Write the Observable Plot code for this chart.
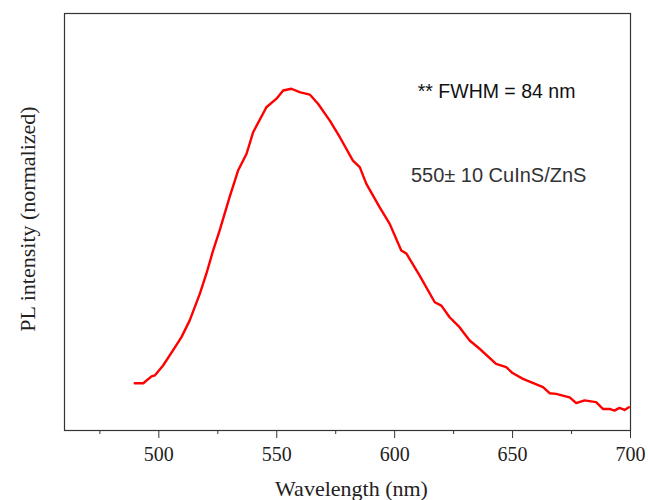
<!DOCTYPE html>
<html>
<head>
<meta charset="utf-8">
<script src="https://cdn.jsdelivr.net/npm/d3@7"></script>
<script src="https://cdn.jsdelivr.net/npm/@observablehq/plot@0.6"></script>
<style>
  html, body { margin: 0; padding: 0; background: #fff; }
  #chart { width: 648px; height: 500px; }
</style>
</head>
<body>
<div id="chart"></div>
<script>
const wavelength = [489.8, 493.4, 496.9, 498.3, 501.8, 506.0, 509.6, 513.1, 517.4, 520.2, 523.0, 525.8, 530.0, 533.6, 537.2, 540.0, 545.6, 549.9, 552.7, 556.2, 559.7, 564.0, 567.5, 572.5, 576.7, 582.3, 585.2, 588.0, 593.6, 597.9, 602.8, 605.0, 610.6, 617.0, 619.8, 623.3, 627.5, 631.8, 636.0, 643.0, 647.3, 650.0, 654.4, 662.9, 665.7, 668.5, 671.3, 674.2, 677.0, 680.5, 685.4, 688.3, 691.1, 693.2, 695.3, 697.5, 699.3];
// Normalised PL intensity (peak = 1)
const intensity = [0.138, 0.138, 0.158, 0.161, 0.190, 0.234, 0.273, 0.322, 0.400, 0.459, 0.526, 0.585, 0.682, 0.760, 0.809, 0.872, 0.945, 0.970, 0.994, 0.999, 0.989, 0.982, 0.955, 0.906, 0.858, 0.789, 0.770, 0.721, 0.653, 0.604, 0.526, 0.517, 0.453, 0.375, 0.365, 0.331, 0.302, 0.263, 0.239, 0.195, 0.185, 0.168, 0.151, 0.127, 0.109, 0.107, 0.102, 0.097, 0.080, 0.088, 0.083, 0.063, 0.063, 0.058, 0.066, 0.060, 0.068];
const majorTicks = [500, 550, 600, 650, 700];
const minorTicks = [475, 525, 575, 625, 675];
const annotations = ["** FWHM = 84 nm", "550\u00b1 10 CuInS/ZnS"];
const xLabel = "Wavelength (nm)";
const yLabel = "PL intensity (normalized)";

const data = wavelength.map((w, i) => ({w, v: intensity[i]}));
const serif = "'Liberation Serif', 'Times New Roman', serif";
const sans = "'Liberation Sans', Arial, sans-serif";

const chart = Plot.plot({
  width: 648,
  height: 500,
  marginLeft: 64,
  marginRight: 18,
  marginTop: 13,
  marginBottom: 70,
  style: {fontFamily: serif, background: "#fff"},
  x: {domain: [460, 700], label: null},
  y: {domain: [0, 1.219], axis: null},
  marks: [
    Plot.frame({stroke: "#333", strokeWidth: 1.2}),
    Plot.axisX({ticks: minorTicks, tickSize: 4, tickFormat: () => "", label: null, stroke: "#333"}),
    Plot.axisX({ticks: majorTicks, tickSize: 8, tickPadding: 8, fontSize: 20, fill: "#222", label: null, stroke: "#333"}),
    Plot.line(data, {x: "w", y: "v", stroke: "#ff0000", strokeWidth: 2.4, curve: "linear"}),
    Plot.text([xLabel], {frameAnchor: "bottom", textAnchor: "middle", lineAnchor: "middle", dx: 4, dy: 58, fontSize: 22, fill: "#222", fontFamily: serif}),
    Plot.text([yLabel], {frameAnchor: "left", lineAnchor: "middle", dx: -37, dy: -3, rotate: -90, textAnchor: "middle", fontSize: 22, fill: "#222", fontFamily: serif}),
    Plot.text([annotations[0]], {x: 643.2, y: 0.989, fontSize: 19.5, fill: "#111", fontFamily: sans}),
    Plot.text([annotations[1]], {x: 644.1, y: 0.744, fontSize: 20, fill: "#333", fontFamily: sans})
  ]
});
document.getElementById("chart").appendChild(chart);
</script>
</body>
</html>
